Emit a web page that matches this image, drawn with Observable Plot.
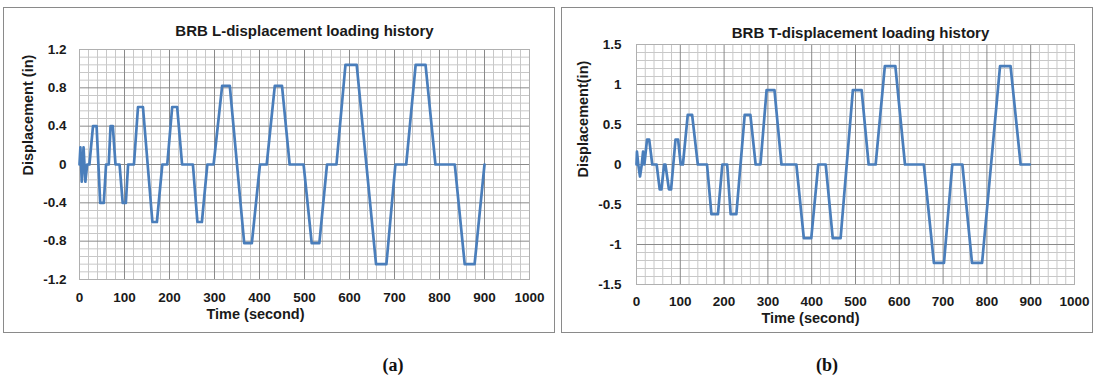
<!DOCTYPE html>
<html><head><meta charset="utf-8">
<script src="https://cdn.jsdelivr.net/npm/d3@7"></script>
<script src="https://cdn.jsdelivr.net/npm/@observablehq/plot@0.6"></script>
<style>
body{margin:0;background:#fff;}
#root{position:relative;width:1094px;height:377px;overflow:hidden;background:#fff;}
.panel{position:absolute;border:1px solid #8a8a8a;box-sizing:border-box;}
.chart{position:absolute;}
.cap{position:absolute;font-family:"Liberation Serif","Times New Roman",serif;font-weight:bold;font-size:18px;color:#111;transform:translate(-50%,-50%);white-space:nowrap;}
</style></head><body><div id="root"></div>
<script>
// ---- data ----
const timeL = [0,2,5,9,13,17,22,30,38,46,54,59,65,69,74,80,89,96,103,108,121,130,141,162,172,184,195,206,217,228,252,262,272,284,298,317,334,366,383,401,416,434,450,467,498,516,533,550,571,591,616,659,682,702,726,747,769,791,834,856,878,900];
const dispL = [0,0.18,-0.18,0.18,-0.18,0,0,0.4,0.4,-0.4,-0.4,0,0,0.4,0.4,0,0,-0.4,-0.4,0,0,0.6,0.6,-0.6,-0.6,0,0,0.6,0.6,0,0,-0.6,-0.6,0,0,0.82,0.82,-0.82,-0.82,0,0,0.82,0.82,0,0,-0.82,-0.82,0,0,1.04,1.04,-1.04,-1.04,0,0,1.04,1.04,0,0,-1.04,-1.04,0];
const timeT = [0,1,4,8,12,15,18,24,29,36,46,53,57,63,66,74,79,89,95,101,106,117,127,140,161,171,186,196,207,215,228,247,260,272,283,297,315,331,365,382,399,415,432,448,466,494,514,530,546,567,591,613,656,679,702,721,744,766,789,830,854,877,898];
const dispT = [0,0.16,0,-0.15,0,0.16,0,0.31,0.31,0,0,-0.31,-0.31,0,0,-0.31,-0.31,0.31,0.31,0,0,0.62,0.62,0,0,-0.62,-0.62,0,0,-0.62,-0.62,0.62,0.62,0,0,0.93,0.93,0,0,-0.92,-0.92,0,0,-0.92,-0.92,0.93,0.93,0,0,1.23,1.23,0,0,-1.23,-1.23,0,0,-1.23,-1.23,1.23,1.23,0,0];
const xTicks = [0,100,200,300,400,500,600,700,800,900,1000];
const yTicksL = [-1.2,-0.8,-0.4,0,0.4,0.8,1.2];
const yTicksT = [-1.5,-1,-0.5,0,0.5,1,1.5];
const titleL = "BRB L-displacement loading history";
const titleT = "BRB T-displacement loading history";
const yLabelL = "Displacement (in)";
const yLabelT = "Displacement(in)";
const xLabel = "Time (second)";
const captions = ["(a)", "(b)"];

// ---- helpers ----
function minor(ticks, n) {
  const out = [];
  for (let i = 0; i < ticks.length - 1; i++) {
    const a = ticks[i], b = ticks[i + 1];
    for (let k = 1; k < n; k++) out.push(a + (b - a) * k / n);
  }
  return out;
}
const FONT = '"Liberation Sans", Arial, sans-serif';
const BLUE = "#4a7ebb";
const TXT = "#1a1a1a";

function chart(o) {
  const data = o.time.map((t, i) => ({t, v: o.disp[i]}));
  return Plot.plot({
    width: o.width, height: o.height,
    marginLeft: o.ml, marginRight: o.mr, marginTop: o.mt, marginBottom: o.mb,
    x: {domain: [0, 1000]},
    y: {domain: [o.yTicks[0], o.yTicks[o.yTicks.length - 1]]},
    style: {fontFamily: FONT, fontSize: "13.5px", fontWeight: "bold", color: TXT, background: "transparent", overflow: "visible"},
    marks: [
      Plot.ruleX(minor(xTicks, 5), {stroke: "#c8c8c8", strokeWidth: 1}),
      Plot.ruleY(minor(o.yTicks, 5), {stroke: "#c8c8c8", strokeWidth: 1}),
      Plot.ruleX(xTicks, {stroke: "#8a8a8a", strokeWidth: 1}),
      Plot.ruleY(o.yTicks, {stroke: "#8a8a8a", strokeWidth: 1}),
      Plot.frame({stroke: "#b0b0b0"}),
      Plot.line(data, {x: "t", y: "v", stroke: BLUE, strokeWidth: 2.7, strokeLinejoin: "round"}),
      Plot.axisX({ticks: xTicks, tickSize: 0, tickPadding: o.xPad, tickFormat: d => String(d), label: null, fill: TXT}),
      Plot.axisY({ticks: o.yTicks, tickSize: 0, tickPadding: o.yPad, tickFormat: d => String(d), label: null, fill: TXT}),
      Plot.text([o.title], {text: d => d, frameAnchor: "top", dx: o.tdx, dy: o.tdy, fontSize: 15, fontWeight: "bold", fill: TXT}),
      Plot.text([xLabel], {text: d => d, frameAnchor: "bottom", dx: o.xldx, dy: o.xldy, fontSize: 14.5, fontWeight: "bold", fill: TXT}),
      Plot.text([o.yLabel], {text: d => d, frameAnchor: "left", rotate: -90, dx: o.yldx, dy: o.yldy, fontSize: 14.5, fontWeight: "bold", fill: TXT})
    ]
  });
}

const root = document.getElementById("root");
function addPanel(l, t, w, h) {
  const d = document.createElement("div");
  d.className = "panel";
  Object.assign(d.style, {left: l + "px", top: t + "px", width: w + "px", height: h + "px"});
  root.appendChild(d);
}
function place(el, l, t) {
  el.classList.add("chart");
  el.style.left = l + "px"; el.style.top = t + "px";
  root.appendChild(el);
}
addPanel(3, 7, 552, 326);
addPanel(561, 7, 532, 326);

place(chart({time: timeL, disp: dispL, yTicks: yTicksL, title: titleL, yLabel: yLabelL,
  width: 550, height: 324, ml: 75, mr: 25, mt: 41, mb: 53, xPad: 13, yPad: 13,
  tdx: 0, tdy: -24, xldx: -49, xldy: 39, yldx: -51, yldy: 11}), 4, 8);
place(chart({time: timeT, disp: dispT, yTicks: yTicksT, title: titleT, yLabel: yLabelT,
  width: 529, height: 324, ml: 74, mr: 17, mt: 36, mb: 48, xPad: 12, yPad: 15,
  tdx: 5, tdy: -17, xldx: -45, xldy: 38, yldx: -53, yldy: 13}), 562, 8);

const capPos = [[393, 365], [827, 365]];
captions.forEach((c, i) => {
  const d = document.createElement("div");
  d.className = "cap"; d.textContent = c;
  d.style.left = capPos[i][0] + "px"; d.style.top = capPos[i][1] + "px";
  root.appendChild(d);
});
</script></body></html>
